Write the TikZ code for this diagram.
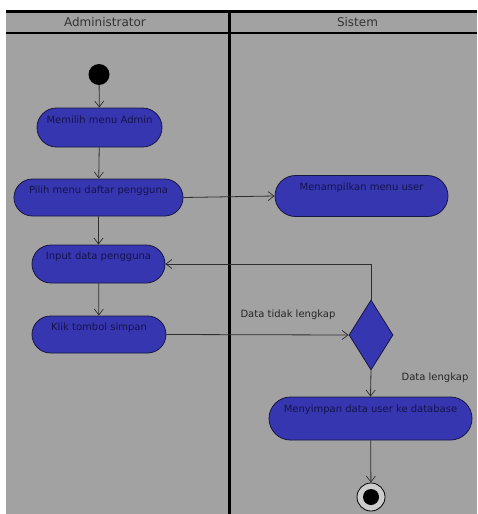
\documentclass[tikz,border=0pt]{standalone}
\usepackage{fontspec}
\setmainfont{DejaVu Sans}
\usetikzlibrary{arrows.meta,shapes.geometric,shapes.misc}
\definecolor{bg}{HTML}{A2A2A2}
\definecolor{act}{HTML}{3636B0}
\definecolor{actline}{HTML}{161640}
\definecolor{acttext}{HTML}{14144A}
\definecolor{flow}{HTML}{2E2E2E}
\definecolor{ring}{HTML}{CDCDCD}
\begin{document}
\begin{tikzpicture}[x=1pt,y=-1pt,
  activity/.style={rounded rectangle, draw=actline, line width=0.8pt, fill=act,
    text=acttext, font=\fontsize{10}{12}\selectfont, text height=7.5pt,
    text depth=16pt, inner sep=0pt},
  tall/.style={text depth=19pt},
  flowline/.style={draw=flow, line width=0.8pt,
    -{Straight Barb[length=6pt,width=9pt,line width=0.7pt]}},
  lane/.style={line width=2.2pt, black},
  lanetitle/.style={text=black!80, font=\fontsize{12}{14}\selectfont, inner sep=0pt},
  guard/.style={text=black!85, font=\fontsize{10}{12}\selectfont, inner sep=0pt}]
\useasboundingbox (0,0) rectangle (477,514);
\fill[white] (0,0) rectangle (477,514);
\fill[bg] (6,10) rectangle (477,514);
% swimlanes
\draw[lane] (6,11.5) -- (477,11.5);
\draw[lane] (6,33) -- (477,33);
\draw[lane] (229.5,11.5) -- (229.5,514);
\node[lanetitle] (tadmin) at (105,22.5) {Administrator};
\node[lanetitle] (tsistem) at (357.5,22.5) {Sistem};
% nodes
\node[circle, fill=black, minimum size=21pt, inner sep=0pt] (start) at (99,74.5) {};
\node[activity, minimum width=125pt, minimum height=39pt] (memilih) at (99.5,127.5) {Memilih menu Admin};
\node[activity, minimum width=169pt, minimum height=37pt] (pilih) at (98.5,197.5) {Pilih menu daftar pengguna};
\node[activity, tall, minimum width=173pt, minimum height=41pt] (tampil) at (361.5,196) {Menampilkan menu user};
\node[activity, minimum width=133pt, minimum height=38pt] (input) at (98.5,264) {Input data pengguna};
\node[activity, minimum width=134pt, minimum height=37pt] (klik) at (99,334.5) {Klik tombol simpan};
\node[diamond, draw=actline, line width=0.8pt, fill=act, minimum width=44pt,
  minimum height=70pt, inner sep=0pt] (dec) at (371,335) {};
\node[activity, tall, minimum width=203pt, minimum height=43pt] (simpan) at (370.5,418.5) {Menyimpan data user ke database};
\node[circle, draw=black, line width=0.8pt, fill=ring, minimum size=28pt, inner sep=0pt] (final) at (371,497) {};
\fill[black] (final.center) circle (8pt);
% guards
\node[guard] (g1) at (288,315) {Data tidak lengkap};
\node[guard] (g2) at (435,378) {Data lengkap};
% flows
\draw[flowline] (start) -- (memilih);
\draw[flowline] (memilih) -- (pilih);
\draw[flowline] (pilih.east) -- (tampil.west);
\draw[flowline] (pilih) -- (input);
\draw[flowline] (input) -- (klik);
\draw[flowline] (klik.east) -- (dec.west);
\draw[flowline] (dec.north) |- (input.east);
\draw[flowline] (dec.south) -- (simpan.north);
\draw[flowline] (simpan) -- (final);
\end{tikzpicture}
\end{document}
